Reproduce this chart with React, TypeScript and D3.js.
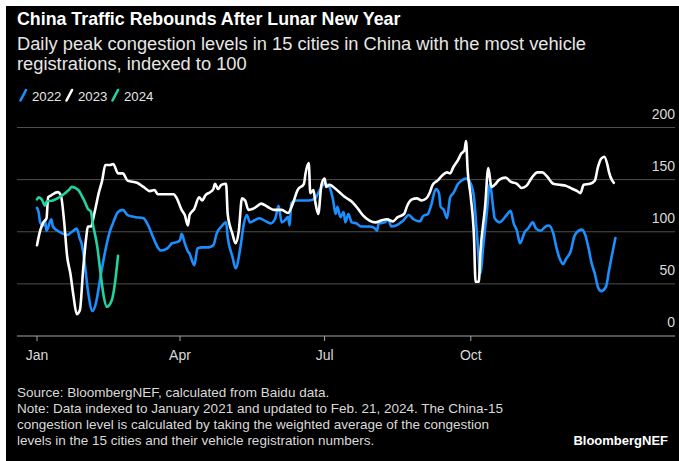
import React from "react";
import * as d3 from "d3";

// ---- Data (day of year, value indexed to 100) ----
const days2022 = [0,1,2,4,5,6,9,10,14,19,22,25,27,28,30,32,35,37,40,43,46,48,51,54,57,62,67,70,73,76,78,82,85,88,90,91,93,95,96,99,101,104,108,111,113,116,119,120,123,125,128,130,132,134,137,140,144,147,150,152,154,156,158,159,160,163,167,171,175,178,181,184,186,188,189,191,193,194,196,198,201,204,209,212,214,215,219,221,223,226,230,234,237,241,243,246,248,251,253,254,256,258,260,262,265,267,270,273,275,277,279,281,283,285,287,288,291,294,296,298,300,302,304,307,309,312,314,317,320,322,325,327,329,331,333,336,338,340,343,345,347,349,351,353,355,358,360,362,364];
const vals2022 = [123,119,109,106,111,101,112,105,100,97,100,103,93,89,70,44,24,31,57,82,101,109,119,121,116,114,113,106,95,85,82,84,89,90,92,98,89,81,79,68,84,85,85,87,98,105,109,95,76,65,85,106,116,109,111,113,110,108,113,125,109,111,114,106,127,130,130,130,132,140,146,143,133,117,124,114,119,109,117,109,108,105,105,104,101,108,109,112,105,106,110,116,112,110,115,117,125,141,137,124,121,113,133,137,146,149,151,146,133,95,60,89,117,146,124,113,109,113,117,120,108,101,89,100,103,109,103,101,105,106,98,84,74,69,74,82,95,100,102,97,85,70,60,47,43,47,63,79,94];

const days2023 = [0,2,4,6,7,9,13,15,17,19,21,23,25,27,29,31,32,34,36,39,41,43,46,48,51,54,57,63,67,71,74,76,80,86,88,91,93,95,96,99,102,104,106,109,111,112,114,116,119,120,123,125,127,129,131,133,136,139,141,145,149,154,158,161,164,168,169,171,172,174,175,177,179,181,182,184,188,191,194,198,202,205,209,213,217,220,224,227,231,233,236,239,242,245,247,249,252,255,258,260,262,265,267,269,270,271,273,275,276,278,279,282,284,286,288,291,295,298,302,305,308,311,315,318,321,325,329,333,337,340,342,344,348,351,353,355,357,359,360,362,363];
const vals2023 = [87,101,109,113,133,135,138,135,111,76,60,38,21,25,63,95,105,105,117,138,149,164,164,165,156,156,149,147,143,139,140,136,136,136,132,121,116,106,116,122,133,130,135,138,141,146,141,145,146,117,98,89,101,132,130,121,122,125,127,124,121,121,118,127,140,146,156,166,137,140,130,117,145,151,143,145,141,137,133,129,122,116,111,109,111,112,110,114,117,125,131,132,130,132,137,145,149,154,157,156,162,169,175,178,187,159,133,95,52,52,79,124,161,143,145,150,152,148,146,142,144,151,157,157,153,146,145,144,141,139,137,145,146,149,162,170,172,164,157,149,147];

const days2024 = [0,1,3,5,6,10,16,20,22,26,28,30,32,34,35,38,40,42,44,47,49,51];
const vals2024 = [131,133,131,125,129,130,135,140,143,140,135,129,122,119,109,85,60,38,28,34,50,77];

const seriesNames = ["2022", "2023", "2024"];
const seriesColors = ["#1a8fff", "#ffffff", "#22d3a0"];

const yTicks = [0, 50, 100, 150, 200];
const monthLabels = ["Jan", "Apr", "Jul", "Oct"];
const monthDays = [0, 90, 181, 273];

const title = "China Traffic Rebounds After Lunar New Year";
const subtitleLines = [
  "Daily peak congestion levels in 15 cities in China with the most vehicle",
  "registrations, indexed to 100",
];
const footLines = [
  "Source: BloombergNEF, calculated from Baidu data.",
  "Note: Data indexed to January 2021 and updated to Feb. 21, 2024. The China-15",
  "congestion level is calculated by taking the weighted average of the congestion",
  "levels in the 15 cities and their vehicle registration numbers.",
];

const W = 679;
const H = 461;
const FONT = "'Liberation Sans', Arial, Helvetica, sans-serif";

export default function App() {
  const x = d3.scaleLinear().domain([0, 365]).range([37, 617]);
  const y = d3.scaleLinear().domain([0, 200]).range([336, 127.5]);

  const series = [
    { days: days2022, vals: vals2022 },
    { days: days2023, vals: vals2023 },
    { days: days2024, vals: vals2024 },
  ];

  const line = d3
    .line<[number, number]>()
    .x((d) => x(d[0]))
    .y((d) => y(d[1]))
    .curve(d3.curveMonotoneX);

  const legendX = [19, 65, 111];

  return (
    <>
      <style>{`html,body{margin:0;padding:0;background:#fff}svg{display:block}`}</style>
      <svg width={W} height={H} viewBox={`0 0 ${W} ${H}`} fontFamily={FONT}>
        <rect x={0} y={0} width={W} height={H} fill="#ffffff" />
        <rect x={6} y={6} width={W - 6} height={H - 6} fill="#000000" />

        <text x={17} y={24.5} fill="#ffffff" fontSize={17.8} fontWeight={700}>
          {title}
        </text>
        {subtitleLines.map((t, i) => (
          <text key={i} x={17} y={50 + i * 20} fill="#e6e6e6" fontSize={18.3}>
            {t}
          </text>
        ))}

        {seriesNames.map((n, i) => (
          <g key={n}>
            <line
              x1={legendX[i] + 1.5}
              y1={100.5}
              x2={legendX[i] + 7}
              y2={90}
              stroke={seriesColors[i]}
              strokeWidth={2.6}
              strokeLinecap="round"
            />
            <text x={legendX[i] + 13} y={101} fill="#e6e6e6" fontSize={13.2}>
              {n}
            </text>
          </g>
        ))}

        {yTicks.map((t) => (
          <g key={t}>
            <line
              x1={17}
              x2={675}
              y1={y(t)}
              y2={y(t)}
              stroke={t === 0 ? "#a6a6a6" : "#4f4f46"}
              strokeWidth={1}
            />
            <text
              x={675}
              y={y(t) - 9}
              textAnchor="end"
              fill="#d9d9d9"
              fontSize={14}
            >
              {t}
            </text>
          </g>
        ))}

        {monthDays.map((d, i) => (
          <g key={d}>
            <line x1={x(d)} x2={x(d)} y1={y(0)} y2={y(0) + 5} stroke="#a6a6a6" />
            <text x={x(d)} y={360} textAnchor="middle" fill="#d9d9d9" fontSize={14}>
              {monthLabels[i]}
            </text>
          </g>
        ))}

        {series.map((s, i) => (
          <path
            key={i}
            d={line(s.days.map((d, j) => [d, s.vals[j]] as [number, number])) || ""}
            fill="none"
            stroke={seriesColors[i]}
            strokeWidth={2.6}
            strokeLinejoin="round"
            strokeLinecap="round"
          />
        ))}

        {footLines.map((t, i) => (
          <text key={i} x={17} y={397 + i * 16} fill="#d9d9d9" fontSize={13.5}>
            {t}
          </text>
        ))}
        <text x={668} y={445} textAnchor="end" fill="#ffffff" fontSize={13} fontWeight={700}>
          BloombergNEF
        </text>
      </svg>
    </>
  );
}
